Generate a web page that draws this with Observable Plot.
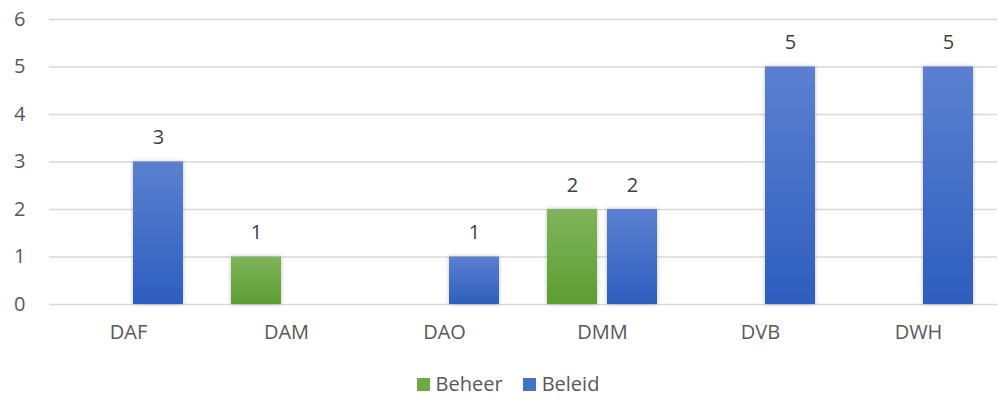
<!DOCTYPE html>
<html><head><meta charset="utf-8">
<script src="https://cdn.jsdelivr.net/npm/d3@7"></script>
<script src="https://cdn.jsdelivr.net/npm/@observablehq/plot@0.6"></script>
<style>
body{margin:0;background:#fff;font-family:"Open Sans",sans-serif;}
#legend{display:flex;justify-content:center;gap:20px;height:41px;align-items:center;font-size:20px;color:#595959;padding-left:18px;padding-top:6px;box-sizing:border-box;}
#legend span.sw{display:inline-block;width:13px;height:13px;margin-right:6px;vertical-align:0px;}
</style></head>
<body>
<div id="chart"></div>
<div id="legend"></div>
<script>
const categories = ["DAF","DAM","DAO","DMM","DVB","DWH"];
const series = ["Beheer","Beleid"];
const beheer = [0,1,0,2,0,0];
const beleid = [3,0,1,2,5,5];
const yTicks = [0,1,2,3,4,5,6];

const data = [];
categories.forEach((c,i)=>{
  if (beheer[i] > 0) data.push({cat:c, s:"Beheer", v:beheer[i]});
  if (beleid[i] > 0) data.push({cat:c, s:"Beleid", v:beleid[i]});
});
const fills = {Beheer:"url(#gGreen)", Beleid:"url(#gBlue)"};

const plot = Plot.plot({
  width: 998, height: 360,
  marginLeft: 48, marginRight: 0, marginTop: 19, marginBottom: 56,
  style:{fontFamily:"Open Sans, sans-serif", fontSize:"20px", color:"#595959", background:"#fff"},
  fx:{domain:categories, padding:0, label:null, axis:"bottom", tickSize:0, tickPadding:20},
  x:{domain:series, paddingInner:1/6, paddingOuter:0.4, axis:null},
  y:{domain:[0,6], ticks:yTicks, tickSize:0, tickPadding:24, label:null, tickFormat:d=>d},
  marks:[
    Plot.ruleY(yTicks, {stroke:"#d9d9d9", strokeWidth:1.4}),
    Plot.barY(data, {fx:"cat", x:"s", y:"v", fill:d=>fills[d.s]}),
    Plot.text(data, {fx:"cat", x:"s", y:"v", text:d=>String(d.v), dy:-24, fill:"#404040", fontSize:20})
  ]
});
const svg = d3.select(plot);
const defs = svg.insert("defs", ":first-child");
const g1 = defs.append("linearGradient").attr("id","gGreen").attr("x1",0).attr("y1",0).attr("x2",0).attr("y2",1);
g1.append("stop").attr("offset","0%").attr("stop-color","#7fb45c");
g1.append("stop").attr("offset","100%").attr("stop-color","#5e9d31");
const g2 = defs.append("linearGradient").attr("id","gBlue").attr("x1",0).attr("y1",0).attr("x2",0).attr("y2",1);
g2.append("stop").attr("offset","0%").attr("stop-color","#5b80cf");
g2.append("stop").attr("offset","100%").attr("stop-color","#2e5ebe");
const f = defs.append("filter").attr("id","shadow").attr("x","-20%").attr("y","-20%").attr("width","140%").attr("height","140%");
f.append("feDropShadow").attr("dx",0).attr("dy",0).attr("stdDeviation",2).attr("flood-color","#000").attr("flood-opacity",0.25);
svg.selectAll("g[aria-label='bar'] rect").attr("filter","url(#shadow)");
document.getElementById("chart").appendChild(plot);

const legendColors = {Beheer:"#6faa45", Beleid:"#4472c4"};
const leg = document.getElementById("legend");
series.forEach(s=>{
  const item = document.createElement("div");
  item.innerHTML = `<span class="sw" style="background:${legendColors[s]}"></span>${s}`;
  leg.appendChild(item);
});
</script>
</body></html>
